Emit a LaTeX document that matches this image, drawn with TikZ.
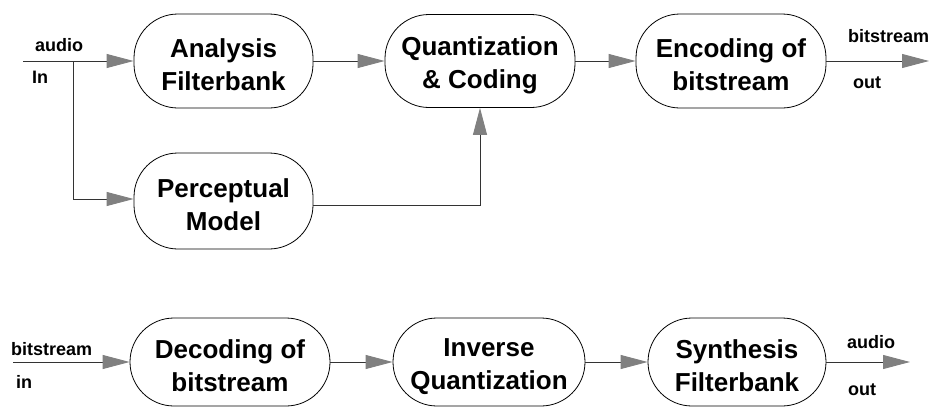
\documentclass[tikz,border=0pt]{standalone}
\usepackage{fontspec}
\setmainfont{Liberation Sans}
\usetikzlibrary{arrows.meta}
\newcommand{\tup}{\rule{0pt}{27pt}}
\begin{document}
\begin{tikzpicture}[x=1pt,y=-1pt,
  blk/.style={draw=black, line width=0.8pt, rounded corners=44pt, align=center,
    font=\fontsize{26}{33}\selectfont\bfseries, inner sep=0pt},
  lbl/.style={font=\fontsize{18}{20}\selectfont\bfseries, anchor=base west, inner sep=0pt},
  flow/.style={draw=black!80, line width=0.9pt, -{Triangle[length=27pt,width=14pt,color=gray]}},
  wire/.style={draw=black!80, line width=0.9pt}]
\useasboundingbox (0,0) rectangle (930,407);

\node[blk, minimum width=179pt, minimum height=94pt] (A) at (223.5,61) {\tup Analysis\\Filterbank};
\node[blk, minimum width=190pt, minimum height=93pt] (Q) at (480,61) {\tup Quantization\\\& Coding};
\node[blk, minimum width=190pt, minimum height=94pt] (E) at (731,61) {\tup Encoding of\\bitstream};
\node[blk, minimum width=179pt, minimum height=96pt] (P) at (223.5,201) {\tup Perceptual\\Model};
\node[blk, minimum width=200pt, minimum height=88pt] (D) at (230,362) {\tup Decoding of\\bitstream};
\node[blk, minimum width=192pt, minimum height=88pt] (I) at (489,362) {\tup Inverse\\Quantization};
\node[blk, minimum width=178pt, minimum height=88pt] (S) at (737,362) {\tup Synthesis\\Filterbank};

\coordinate (ain) at (23,61);
\coordinate (br) at (73,61);
\coordinate (eout) at (929,61);
\coordinate (bin) at (13,362);
\coordinate (sout) at (910,362);

\draw[flow] (ain) -- (A.west);
\draw[flow] (br) |- ([yshift=2pt]P.west);
\draw[flow] (A.east) -- (Q.west);
\draw[flow] (Q.east) -- (E.west);
\draw[flow] (E.east) -- (eout);
\draw[flow] ([yshift=-4pt]P.east) -| (Q.south);

\draw[flow] (bin) -- (D.west);
\draw[flow] (D.east) -- (I.west);
\draw[flow] (I.east) -- (S.west);
\draw[flow] (S.east) -- (sout);

\node[lbl] (l1) at (35,51) {audio};
\node[lbl] (l2) at (32,83) {In};
\node[lbl] (l3) at (848,42) {bitstream};
\node[lbl] (l4) at (853,88) {out};
\node[lbl] (l5) at (11,355) {bitstream};
\node[lbl] (l6) at (16,388) {in};
\node[lbl] (l7) at (847,348) {audio};
\node[lbl] (l8) at (848,395) {out};
\end{tikzpicture}
\end{document}
